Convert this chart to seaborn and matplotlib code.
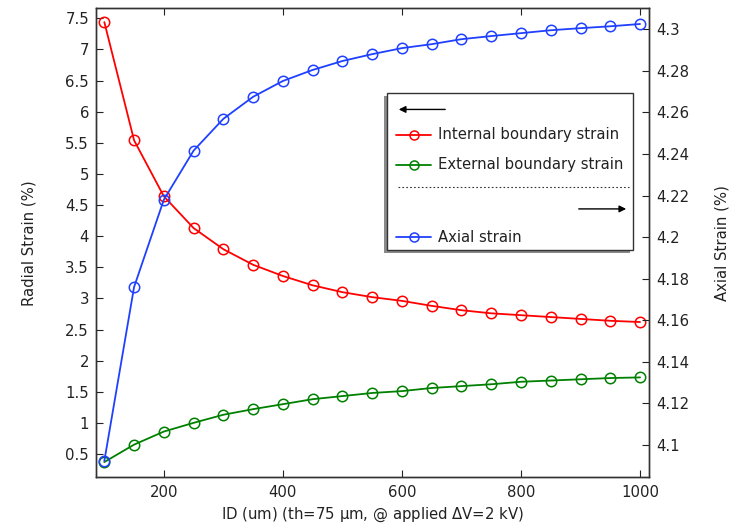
import matplotlib
matplotlib.use('Agg')
import matplotlib.pyplot as plt
from matplotlib.lines import Line2D
from matplotlib.patches import Rectangle
from matplotlib.ticker import FormatStrFormatter, MultipleLocator
import seaborn as sns

# Values
id_um = [100, 150, 200, 250, 300, 350, 400, 450, 500, 550,
         600, 650, 700, 750, 800, 850, 900, 950, 1000]
internal_strain = [7.44, 5.54, 4.64, 4.13, 3.79, 3.54, 3.36, 3.21, 3.10, 3.02,
                   2.96, 2.88, 2.81, 2.76, 2.73, 2.70, 2.67, 2.64, 2.62]
external_strain = [0.37, 0.65, 0.86, 1.00, 1.13, 1.22, 1.30, 1.38, 1.43, 1.48,
                   1.51, 1.56, 1.59, 1.62, 1.66, 1.68, 1.70, 1.72, 1.73]
axial_strain = [4.0923, 4.176, 4.218, 4.2416, 4.2569, 4.2675, 4.2751, 4.2804, 4.2847, 4.288,
                4.2909, 4.2928, 4.2952, 4.2967, 4.2981, 4.2995, 4.3005, 4.3014, 4.3025]

sns.set_style('ticks')
plt.rcParams['font.family'] = ['DejaVu Sans']
plt.rcParams['font.size'] = 10.7

text_col = '#222222'
red, green, blue = '#ff0000', '#008000', '#1f40ff'

fig = plt.figure(figsize=(7.3, 5.26), dpi=100)
ax = fig.add_axes([0.1315, 0.0932, 0.7575, 0.8908])
ax2 = ax.twinx()

line_kw = dict(marker='o', markersize=7.5, markerfacecolor='none', markeredgewidth=1.1, linewidth=1.3)
sns.lineplot(x=id_um, y=internal_strain, ax=ax, color=red, markeredgecolor=red, **line_kw)
sns.lineplot(x=id_um, y=external_strain, ax=ax, color=green, markeredgecolor=green, **line_kw)
sns.lineplot(x=id_um, y=axial_strain, ax=ax2, color=blue, markeredgecolor=blue, **line_kw)

ax.set_xlim(86, 1015)
ax.set_ylim(0.13, 7.66)
ax2.set_ylim(4.0846, 4.310)

ax.xaxis.set_major_locator(MultipleLocator(200))
ax.yaxis.set_major_locator(MultipleLocator(0.5))
ax2.yaxis.set_major_locator(MultipleLocator(0.02))
ax.yaxis.set_major_formatter(FormatStrFormatter('%g'))
ax2.yaxis.set_major_formatter(FormatStrFormatter('%g'))

ax.tick_params(axis='x', direction='in', top=True, length=5, pad=6, colors=text_col)
ax.tick_params(axis='y', direction='in', length=5, pad=5, colors=text_col)
ax2.tick_params(axis='y', direction='in', length=5, pad=5, colors=text_col)
for a in (ax, ax2):
    for s in a.spines.values():
        s.set_color('#333333')
        s.set_linewidth(1.0)

ax.set_xlabel(r'ID (um) (th=75 $\mathrm{\mu}$m, @ applied $\Delta$V=2 kV)', color=text_col)
ax.set_ylabel('Radial Strain (%)', color=text_col, labelpad=21)
ax2.set_ylabel('Axial Strain (%)', color=text_col, labelpad=18)

# Hand-built legend box with shadow, drawn on the top axes
tr = ax2.transAxes
x0, x1, y0, y1 = 0.526, 0.971, 0.4846, 0.8194
ax2.add_patch(Rectangle((x0 - 0.0054, y0 - 0.0064), x1 - x0, y1 - y0, transform=tr,
                        facecolor='#8a8a8a', edgecolor='none', zorder=10, clip_on=False))
ax2.add_patch(Rectangle((x0, y0), x1 - x0, y1 - y0, transform=tr,
                        facecolor='white', edgecolor='#333333', lw=1.0, zorder=11, clip_on=False))

arrow_kw = dict(arrowstyle='-|>', color='black', lw=1.0, mutation_scale=10)
ax2.annotate('', xy=(0.5425, 0.7844), xytext=(0.6365, 0.7844), xycoords=tr, textcoords=tr,
             arrowprops=arrow_kw, zorder=12)
ax2.annotate('', xy=(0.9638, 0.5721), xytext=(0.868, 0.5721), xycoords=tr, textcoords=tr,
             arrowprops=arrow_kw, zorder=12)
ax2.add_line(Line2D([0.546, 0.9638], [0.6196, 0.6196], transform=tr, color='#333333',
                    lw=0.8, linestyle=(0, (1.5, 2)), zorder=12, clip_on=False))

entries = [('Internal boundary strain', red, 0.7299),
           ('External boundary strain', green, 0.6665),
           ('Axial strain', blue, 0.5113)]
for label, col, yy in entries:
    ax2.add_line(Line2D([0.5425, 0.6058], [yy, yy], transform=tr, color=col, lw=1.3,
                        zorder=12, clip_on=False))
    ax2.add_line(Line2D([0.575], [yy], transform=tr, color=col, marker='o', markersize=6.5,
                        markerfacecolor='none', markeredgewidth=1.1, zorder=12, clip_on=False))
    ax2.text(0.6184, yy, label, transform=tr, va='center', ha='left', color=text_col,
             fontsize=10.7, zorder=12)

fig.savefig('out.png', dpi=100, facecolor='white')
